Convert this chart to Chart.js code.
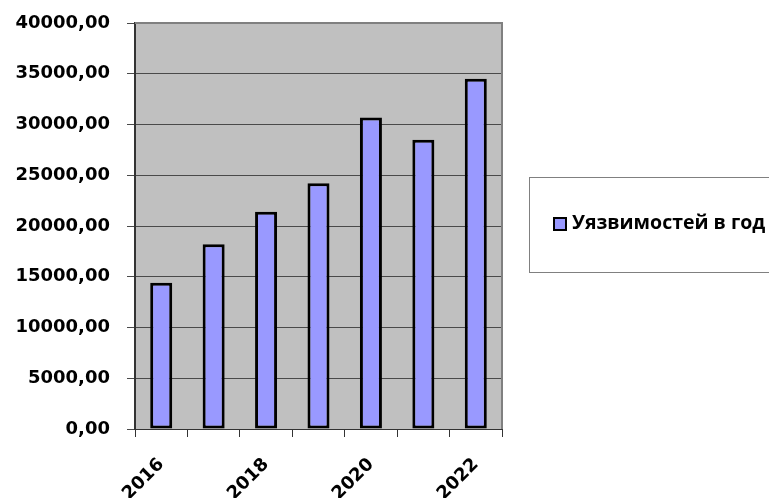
<!DOCTYPE html>
<html>
<head>
<meta charset="utf-8">
<script src="https://cdn.jsdelivr.net/npm/chart.js@4.4.0/dist/chart.umd.min.js"></script>
<style>
    body { margin: 0; background: #fff; }
    #wrap { width: 769px; height: 498px; position: relative; }
</style>
</head>
<body>
<div id="wrap"><canvas id="vulnChart"></canvas></div>
<script>
const years = ['2016', '2017', '2018', '2019', '2020', '2021', '2022'];
const vulnPerYear = [14400, 18200, 21400, 24200, 30700, 28500, 34500];
const seriesName = 'Уязвимостей в год';
const yMin = 0;
const yMax = 40000;
const yStep = 5000;

const tickFont = { family: 'DejaVu Sans', weight: 'bold', size: 18 };

// grey plot area, its frame and the boxed legend on the right
const plotAndLegend = {
    id: 'plotAndLegend',
    beforeDraw(chart) {
        const { ctx, chartArea: a } = chart;
        ctx.save();
        ctx.fillStyle = '#c0c0c0';
        ctx.fillRect(a.left, a.top, a.right - a.left, a.bottom - a.top);
        ctx.restore();
    },
    beforeDatasetsDraw(chart) {
        const { ctx, chartArea: a } = chart;
        ctx.save();
        ctx.strokeStyle = '#808080';
        ctx.lineWidth = 2;
        ctx.beginPath();
        ctx.moveTo(a.left, a.top);
        ctx.lineTo(a.right, a.top);
        ctx.lineTo(a.right, a.bottom);
        ctx.stroke();
        ctx.restore();
    },
    afterDraw(chart) {
        const { ctx } = chart;
        const ds = chart.data.datasets[0];
        ctx.save();
        ctx.strokeStyle = '#808080';
        ctx.lineWidth = 1;
        ctx.strokeRect(529.5, 177.5, 260, 95);
        ctx.fillStyle = ds.backgroundColor;
        ctx.strokeStyle = '#000';
        ctx.lineWidth = 2;
        ctx.fillRect(554, 218, 12, 12);
        ctx.strokeRect(554, 218, 12, 12);
        ctx.fillStyle = '#000';
        ctx.font = "bold 19.5px 'Open Sans'";
        ctx.textBaseline = 'middle';
        ctx.fillText(ds.label, 572, 223);
        ctx.restore();
    }
};

const ctx = document.getElementById('vulnChart').getContext('2d');
new Chart(ctx, {
    type: 'bar',
    data: {
        labels: years,
        datasets: [{
            label: seriesName,
            data: vulnPerYear,
            backgroundColor: '#9999ff',
            borderColor: '#000000',
            borderWidth: 3,
            borderSkipped: false,
            categoryPercentage: 1,
            barPercentage: 0.42
        }]
    },
    options: {
        responsive: true,
        maintainAspectRatio: false,
        animation: false,
        layout: { padding: { top: 23, right: 267, left: 0, bottom: 0 } },
        plugins: {
            legend: { display: false },
            tooltip: { enabled: false }
        },
        scales: {
            x: {
                afterFit: s => { s.height = 69; s.paddingLeft = 0; s.paddingRight = 0; },
                grid: {
                    offset: true,
                    drawOnChartArea: false,
                    drawTicks: true,
                    tickLength: 8,
                    color: '#333'
                },
                border: { color: '#333', width: 1 },
                ticks: {
                    autoSkip: false,
                    minRotation: 45,
                    maxRotation: 45,
                    padding: 17,
                    color: '#000',
                    font: tickFont,
                    callback: function(value, index) {
                        return index % 2 === 0 ? this.getLabelForValue(value) : '';
                    }
                }
            },
            y: {
                min: yMin,
                max: yMax,
                afterFit: s => { s.width = 135; s.paddingTop = 0; s.paddingBottom = 0; },
                grid: {
                    color: '#4a4a4a',
                    tickLength: 8,
                    lineWidth: 1
                },
                border: { color: '#333', width: 2 },
                ticks: {
                    stepSize: yStep,
                    padding: 17,
                    color: '#000',
                    font: tickFont,
                    callback: value => value.toFixed(2).replace('.', ',')
                }
            }
        }
    },
    plugins: [plotAndLegend]
});
</script>
</body>
</html>
